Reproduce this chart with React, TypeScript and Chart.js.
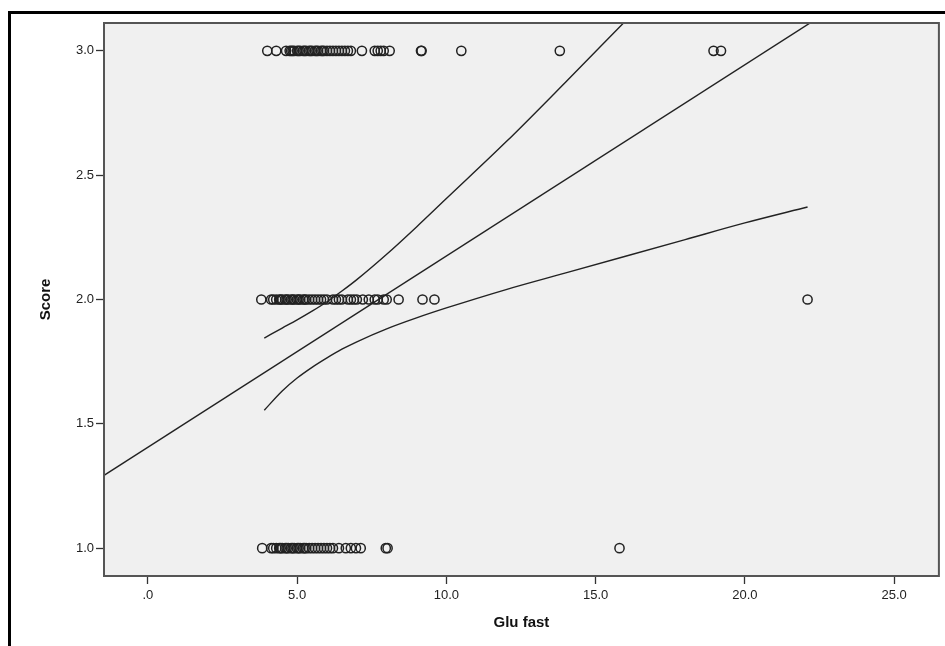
import React, { useEffect, useRef } from "react";
import { Chart, registerables } from "chart.js";

Chart.register(...registerables);

// Scatter rows (Glu fast values at each Score)
const score3X = [4.0, 4.3, 4.63, 4.75, 4.8, 4.85, 4.9, 5.0, 5.05, 5.1, 5.2, 5.25, 5.3, 5.4, 5.45, 5.5, 5.6, 5.65, 5.7, 5.8, 5.85, 5.9, 6.0, 6.1, 6.2, 6.3, 6.4, 6.5, 6.6, 6.7, 6.8, 7.17, 7.6, 7.7, 7.8, 7.9, 8.1, 9.15, 9.17, 10.5, 13.8, 18.95, 19.2];
const score2X = [3.8, 4.13, 4.2, 4.3, 4.4, 4.45, 4.5, 4.6, 4.65, 4.7, 4.8, 4.85, 4.9, 5.0, 5.05, 5.1, 5.2, 5.25, 5.3, 5.4, 5.5, 5.6, 5.7, 5.8, 5.9, 6.0, 6.2, 6.3, 6.4, 6.5, 6.7, 6.8, 6.9, 7.0, 7.2, 7.4, 7.6, 7.7, 7.9, 8.0, 8.4, 9.2, 9.6, 22.1];
const score1X = [3.83, 4.13, 4.2, 4.3, 4.4, 4.45, 4.5, 4.6, 4.65, 4.7, 4.8, 4.85, 4.9, 5.0, 5.05, 5.1, 5.2, 5.25, 5.3, 5.4, 5.5, 5.6, 5.7, 5.8, 5.9, 6.0, 6.1, 6.2, 6.4, 6.63, 6.8, 6.97, 7.13, 7.97, 8.03, 15.8];

// Fit line (read endpoints)
const fitX = [-1.47, 26.5];
const fitY = [1.293, 3.444];

// Confidence band curves
const ciX = [3.9, 4.5, 5.0, 5.5, 6.0, 6.5, 7.0, 8.0, 9.0, 10.0, 12.0, 14.0, 16.0, 18.0, 20.0, 22.1];
const ciUpper = [1.845, 1.885, 1.918, 1.953, 1.991, 2.034, 2.08, 2.182, 2.292, 2.406, 2.634, 2.875, 3.12, 3.362, 3.604, 3.859];
const ciLower = [1.555, 1.632, 1.684, 1.727, 1.765, 1.8, 1.83, 1.882, 1.926, 1.966, 2.04, 2.107, 2.174, 2.241, 2.308, 2.372];

const xTicks = [0, 5, 10, 15, 20, 25];
const yTicks = [1.0, 1.5, 2.0, 2.5, 3.0];

const xTitle = "Glu fast";
const yTitle = "Score";

const INK = "#222222";

const bgPlugin = {
  id: "spssBg",
  beforeDraw(chart: any) {
    const { ctx, chartArea: a } = chart;
    ctx.save();
    ctx.fillStyle = "#ffffff";
    ctx.fillRect(0, 0, chart.width, chart.height);
    ctx.fillStyle = "#f0f0f0";
    ctx.fillRect(a.left, a.top, a.right - a.left, a.bottom - a.top);
    ctx.restore();
  },
  afterDraw(chart: any) {
    const { ctx, chartArea: a } = chart;
    ctx.save();
    ctx.strokeStyle = "#555555";
    ctx.lineWidth = 2;
    ctx.strokeRect(a.left, a.top, a.right - a.left, a.bottom - a.top);
    ctx.fillStyle = "#000000";
    ctx.fillRect(8, 11, 3, chart.height);
    ctx.fillRect(8, 11, chart.width, 3);
    ctx.restore();
  },
};

export default function App() {
  const ref = useRef<HTMLCanvasElement | null>(null);

  useEffect(() => {
    if (!ref.current) return;
    const pt = (xs: number[], y: number) => xs.map((x) => ({ x, y }));
    const line = (xs: number[], ys: number[]) => xs.map((x, i) => ({ x, y: ys[i] }));
    const scatterStyle = {
      pointRadius: 4.6,
      pointBorderWidth: 1.5,
      pointBorderColor: INK,
      pointBackgroundColor: "rgba(0,0,0,0)",
      showLine: false,
    };
    const lineStyle = {
      showLine: true,
      pointRadius: 0,
      borderColor: INK,
      borderWidth: 1.4,
      cubicInterpolationMode: "monotone",
      fill: false,
    };
    const chart = new Chart(ref.current, {
      type: "scatter",
      data: {
        datasets: [
          { label: "3", data: pt(score3X, 3), ...scatterStyle },
          { label: "2", data: pt(score2X, 2), ...scatterStyle },
          { label: "1", data: pt(score1X, 1), ...scatterStyle },
          { label: "fit", data: line(fitX, fitY), ...lineStyle },
          { label: "upper", data: line(ciX, ciUpper), ...lineStyle },
          { label: "lower", data: line(ciX, ciLower), ...lineStyle },
        ] as any,
      },
      options: {
        responsive: false,
        animation: false,
        layout: { padding: { left: 0, top: 23, right: 2, bottom: 0 } },
        plugins: { legend: { display: false }, tooltip: { enabled: false } },
        scales: {
          x: {
            type: "linear",
            min: -1.47,
            max: 26.5,
            afterBuildTicks: (s: any) => {
              s.ticks = xTicks.map((v) => ({ value: v }));
            },
            afterFit: (s: any) => {
              s.height = 70;
            },
            ticks: {
              color: "#222222",
              padding: 4,
              maxRotation: 0,
              font: { family: "'Liberation Sans Narrow', 'Liberation Sans', Arial, sans-serif", size: 13 },
              callback: (v: any) => (Number(v) === 0 ? ".0" : Number(v).toFixed(1)),
            },
            grid: { drawOnChartArea: false, drawTicks: true, tickLength: 8, tickColor: "#333333", tickWidth: 1.3 },
            border: { display: false },
            title: {
              display: true,
              text: xTitle,
              color: "#111111",
              font: { family: "'Liberation Sans', Arial, sans-serif", size: 15, weight: "bold" },
              padding: { top: 0, bottom: 14 },
            },
          },
          y: {
            type: "linear",
            min: 0.888,
            max: 3.112,
            afterBuildTicks: (s: any) => {
              s.ticks = yTicks.map((v) => ({ value: v }));
            },
            afterFit: (s: any) => {
              s.width = 104;
            },
            ticks: {
              color: "#222222",
              padding: 2,
              font: { family: "'Liberation Sans Narrow', 'Liberation Sans', Arial, sans-serif", size: 13 },
              callback: (v: any) => Number(v).toFixed(1),
            },
            grid: { drawOnChartArea: false, drawTicks: true, tickLength: 8, tickColor: "#333333", tickWidth: 1.3 },
            border: { display: false },
            title: {
              display: true,
              text: yTitle,
              color: "#111111",
              font: { family: "'Liberation Sans', Arial, sans-serif", size: 15, weight: "bold" },
              padding: { top: 37, bottom: 0 },
            },
          },
        },
      } as any,
      plugins: [bgPlugin],
    });
    return () => chart.destroy();
  }, []);

  return (
    <div style={{ position: "absolute", left: 0, top: 0, width: 945, height: 646, background: "#fff" }}>
      <canvas ref={ref} width={945} height={646} style={{ display: "block" }} />
    </div>
  );
}
